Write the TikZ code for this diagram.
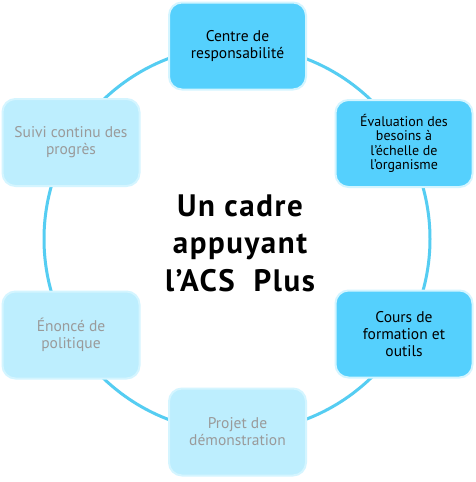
\documentclass[tikz,border=0pt]{standalone}
\usepackage{fontspec}
\setmainfont{PT Sans}
\definecolor{ring}{HTML}{55CDF2}
\definecolor{darkfill}{HTML}{55D0FD}
\definecolor{lightfill}{HTML}{BDEEFE}
\definecolor{rim}{HTML}{D4F5FF}
\definecolor{greytext}{HTML}{9A9A9A}
\tikzset{
  stepbox/.style={rectangle, rounded corners=13pt, minimum width=137pt, minimum height=87pt,
    draw=rim, line width=2pt, align=center, font=\fontsize{15.5}{17}\selectfont, inner sep=2pt},
  activebox/.style={stepbox, fill=darkfill, text=black},
  passivebox/.style={stepbox, fill=lightfill, text=greytext},
}
\begin{document}
\begin{tikzpicture}[x=1pt,y=-1pt]
\useasboundingbox (0,0) rectangle (475,482);
\fill[white] (0,0) rectangle (475,482);
\coordinate (c) at (237,239);
\draw[ring, line width=3pt] (c) circle[radius=193];
\node[activebox] (n1) at (237.5,46) {Centre de\\responsabilité};
\node[activebox, font=\fontsize{14}{14.5}\selectfont] (n2) at (404,143.5) {Évaluation des\\besoins à\\l’échelle de\\l’organisme};
\node[activebox] (n3) at (404,334) {Cours de\\formation et\\outils};
\node[passivebox] (n4) at (237.5,432) {Projet de\\démonstration};
\node[passivebox] (n5) at (71,335) {Énoncé de\\politique};
\node[passivebox] (n6) at (71,142.5) {Suivi continu des\\progrès};
\node[font=\fontsize{31}{37.5}\selectfont\bfseries\addfontfeatures{LetterSpace=5}, align=center] (title) at (240,243) {Un cadre\\appuyant\\l’ACS\ \ Plus};
\end{tikzpicture}
\end{document}
